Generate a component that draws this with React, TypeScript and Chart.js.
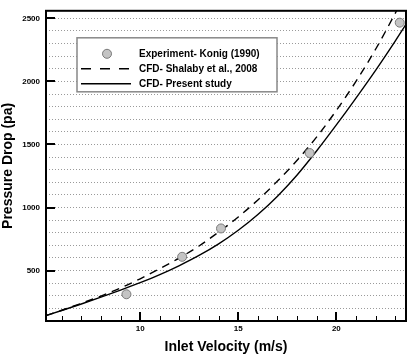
import { useEffect, useRef } from "react";
import { Chart, registerables } from "chart.js";

Chart.register(...registerables);

const FONT = "'Liberation Sans', Arial, sans-serif";

// Experiment - Konig (1990)
const expVelocity = [9.3, 12.14, 14.12, 18.64, 23.23];
const expPressure = [312, 609, 834, 1432, 2466];

// CFD - Shalaby et al., 2008
const shalabyVelocity = [5.2, 6, 7, 8, 9, 10, 11, 12, 13, 14, 15, 16, 17, 18, 19, 20, 21, 22, 23, 23.3];
const shalabyPressure = [143, 185, 240, 298, 362, 435, 515, 600, 695, 805, 925, 1060, 1210, 1375, 1560, 1770, 2000, 2255, 2540, 2630];

// CFD - Present study
const presentVelocity = [5.2, 6, 7, 8, 9, 10, 11, 12, 13, 14, 15, 16, 17, 18, 19, 20, 21, 22, 23, 23.6];
const presentPressure = [143, 183, 235, 289, 345, 404, 468, 540, 620, 712, 820, 945, 1090, 1258, 1450, 1655, 1868, 2088, 2320, 2465];

const legendLabels = ["Experiment- Konig (1990)", "CFD- Shalaby et al., 2008", "CFD- Present study"];

// axis ticks
const yGridValues = [100, 200, 300, 400, 500, 600, 700, 800, 900, 1000, 1100, 1200, 1300, 1400, 1500, 1600, 1700, 1800, 1900, 2000, 2100, 2200, 2300, 2400, 2500];
const yLabelValues = [500, 1000, 1500, 2000, 2500];
const xMinorTicks = [6, 7, 8, 9, 10, 11, 12, 13, 14, 15, 16, 17, 18, 19, 20, 21, 22, 23];
const xLabelValues = [10, 15, 20];

const toPoints = (xs: number[], ys: number[]) => xs.map((x, i) => ({ x, y: ys[i] }));

const framePlugin = {
  id: "frameAndLegend",
  afterDatasetsDraw(chart: any) {
    const { ctx, chartArea: a, scales } = chart;
    ctx.save();
    ctx.strokeStyle = "#000";
    ctx.lineCap = "butt";

    // inward major ticks on the pressure axis
    ctx.lineWidth = 2;
    yLabelValues.forEach((v) => {
      const py = Math.round(scales.y.getPixelForValue(v));
      ctx.beginPath();
      ctx.moveTo(a.left, py);
      ctx.lineTo(a.left + 9, py);
      ctx.stroke();
    });

    // inward ticks on the velocity axis
    xMinorTicks.forEach((v) => {
      const major = xLabelValues.includes(v);
      const px = Math.round(scales.x.getPixelForValue(v)) + (major ? 0 : 0.5);
      ctx.lineWidth = major ? 2 : 1;
      ctx.beginPath();
      ctx.moveTo(px, a.bottom);
      ctx.lineTo(px, a.bottom - (major ? 9 : 5));
      ctx.stroke();
    });

    // plot frame
    ctx.lineWidth = 2;
    ctx.strokeRect(a.left, a.top, a.right - a.left, a.bottom - a.top);

    // legend box
    const bx = a.left + 31;
    const by = a.top + 27;
    const bw = 200;
    const bh = 54;
    ctx.fillStyle = "#fff";
    ctx.fillRect(bx, by, bw, bh);
    ctx.strokeStyle = "#888";
    ctx.lineWidth = 1.5;
    ctx.strokeRect(bx, by, bw, bh);

    const rows = [by + 16, by + 31, by + 46];
    // marker sample
    ctx.beginPath();
    ctx.arc(bx + 30, rows[0], 4.5, 0, Math.PI * 2);
    ctx.fillStyle = "#c4c4c4";
    ctx.fill();
    ctx.strokeStyle = "#7a7a7a";
    ctx.lineWidth = 1;
    ctx.stroke();
    // dashed sample
    ctx.strokeStyle = "#000";
    ctx.lineWidth = 1.4;
    ctx.setLineDash([10, 9]);
    ctx.beginPath();
    ctx.moveTo(bx + 4, rows[1]);
    ctx.lineTo(bx + 54, rows[1]);
    ctx.stroke();
    // solid sample
    ctx.setLineDash([]);
    ctx.beginPath();
    ctx.moveTo(bx + 4, rows[2]);
    ctx.lineTo(bx + 54, rows[2]);
    ctx.stroke();

    ctx.fillStyle = "#000";
    ctx.font = `bold 10px ${FONT}`;
    ctx.textAlign = "left";
    ctx.textBaseline = "middle";
    legendLabels.forEach((t, i) => ctx.fillText(t, bx + 62, rows[i] + 0.5));

    ctx.restore();
  },
};

export default function App() {
  const canvasRef = useRef<HTMLCanvasElement | null>(null);

  useEffect(() => {
    if (!canvasRef.current) return;
    const chart = new Chart(canvasRef.current, {
      type: "scatter",
      data: {
        datasets: [
          {
            label: legendLabels[0],
            data: toPoints(expVelocity, expPressure),
            pointRadius: 4.5,
            pointBackgroundColor: "#c4c4c4",
            pointBorderColor: "#7a7a7a",
            pointBorderWidth: 1,
            showLine: false,
          },
          {
            label: legendLabels[1],
            data: toPoints(shalabyVelocity, shalabyPressure),
            showLine: true,
            borderColor: "#000",
            borderWidth: 1.4,
            borderDash: [8, 6],
            pointRadius: 0,
            cubicInterpolationMode: "monotone",
          },
          {
            label: legendLabels[2],
            data: toPoints(presentVelocity, presentPressure),
            showLine: true,
            borderColor: "#000",
            borderWidth: 1.4,
            pointRadius: 0,
            cubicInterpolationMode: "monotone",
          },
        ],
      },
      options: {
        responsive: false,
        animation: false,
        events: [],
        layout: { padding: { left: 0, top: 6, right: 6, bottom: 0 } },
        plugins: { legend: { display: false }, tooltip: { enabled: false } },
        scales: {
          x: {
            type: "linear",
            min: 5.2,
            max: 23.55,
            afterBuildTicks: (s: any) => {
              s.ticks = xMinorTicks.map((v) => ({ value: v }));
            },
            afterFit: (s: any) => {
              s.height = 37;
            },
            grid: { display: false, drawTicks: false },
            border: { display: false },
            ticks: {
              autoSkip: false,
              maxRotation: 0,
              padding: 3,
              color: "#000",
              font: { family: FONT, size: 8, weight: "bold" },
              callback: (v: any) => (xLabelValues.includes(Number(v)) ? String(v) : ""),
            },
            title: {
              display: true,
              text: "Inlet Velocity (m/s)",
              color: "#000",
              font: { family: FONT, size: 14, weight: "bold" },
              padding: { top: 0, bottom: 2 },
            },
          },
          y: {
            type: "linear",
            min: 100,
            max: 2560,
            afterBuildTicks: (s: any) => {
              s.ticks = yGridValues.map((v) => ({ value: v }));
            },
            afterFit: (s: any) => {
              s.width = 46;
            },
            grid: { color: "#9a9a9a", lineWidth: 1, drawTicks: false },
            border: { display: false, dash: [1, 2] },
            ticks: {
              autoSkip: false,
              padding: 6,
              color: "#000",
              font: { family: FONT, size: 8, weight: "bold" },
              callback: (v: any) => (yLabelValues.includes(Number(v)) ? String(v) : ""),
            },
            title: {
              display: true,
              text: "Pressure Drop (pa)",
              color: "#000",
              font: { family: FONT, size: 14, weight: "bold" },
              padding: { top: 0, bottom: 0 },
            },
          },
        },
      },
      plugins: [framePlugin],
    });
    return () => chart.destroy();
  }, []);

  return (
    <div style={{ position: "absolute", left: 0, top: 0, width: 412, height: 358, background: "#fff" }}>
      <canvas ref={canvasRef} width={412} height={358} style={{ display: "block" }} />
    </div>
  );
}
